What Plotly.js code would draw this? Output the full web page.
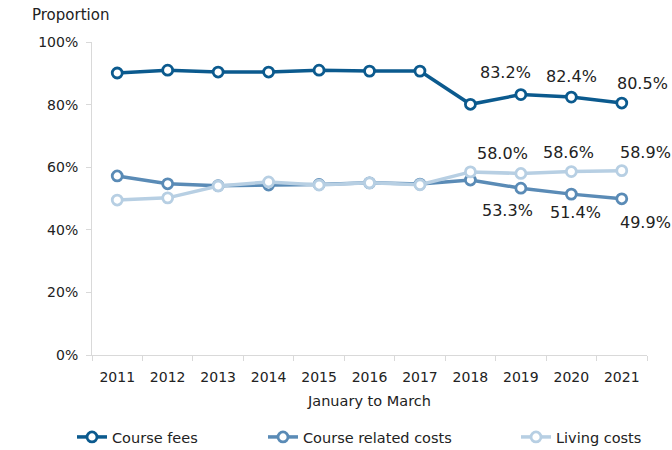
<!DOCTYPE html>
<html>
<head>
<meta charset="utf-8">
<script src="https://cdn.plot.ly/plotly-3.0.1.min.js"></script>
<style>html,body{margin:0;padding:0;background:#fff;}#chart{width:672px;height:450px;}</style>
</head>
<body>
<div id="chart"></div>
<script>
const years = ["2011","2012","2013","2014","2015","2016","2017","2018","2019","2020","2021"];
const courseFees = [90.1, 91.0, 90.4, 90.4, 91.0, 90.7, 90.7, 80.1, 83.2, 82.4, 80.5];
const courseRelated = [57.2, 54.7, 54.1, 54.3, 54.5, 55.0, 54.6, 55.9, 53.3, 51.4, 49.9];
const livingCosts = [49.5, 50.2, 54.0, 55.3, 54.3, 55.0, 54.4, 58.5, 58.0, 58.6, 58.9];
const seriesNames = ["Course fees", "Course related costs", "Living costs"];
const colors = ["#0B5A8E", "#5A8BB6", "#B7CFE3"];
const labelYears = ["2019", "2020", "2021"];

const font = "DejaVu Sans, Verdana, sans-serif";
const allSeries = [courseFees, courseRelated, livingCosts];
const legendIds = ["legend", "legend2", "legend3"];
const traces = allSeries.map((vals, i) => ({
  x: years, y: vals, name: seriesNames[i], type: "scatter", mode: "lines+markers",
  legend: legendIds[i],
  line: {color: colors[i], width: 3.5},
  marker: {symbol: "circle", size: 10, color: "#ffffff", line: {color: colors[i], width: 2.8}},
  hoverinfo: "skip"
}));

// label shifts in px (xshift, yshift) per labelled year
const feeShift = [[-15, 22], [0, 21], [21, 20]];
const livingShift = [[-18, 20], [-3, 19], [24, 18]];
const relatedShift = [[-13, -22], [4, -18], [24, -24]];
const annotations = [];
function addLabel(idx, val, sh) {
  annotations.push({x: idx, y: val, xref: "x", yref: "y", text: val.toFixed(1) + "%",
    showarrow: false, xshift: sh[0], yshift: sh[1], xanchor: "center", yanchor: "middle",
    font: {family: font, size: 16, color: "#222"}});
}
labelYears.forEach((yr, k) => {
  const idx = years.indexOf(yr);
  addLabel(idx, courseFees[idx], feeShift[k]);
  addLabel(idx, livingCosts[idx], livingShift[k]);
  addLabel(idx, courseRelated[idx], relatedShift[k]);
});
annotations.push({text: "Proportion", xref: "paper", yref: "paper", x: -0.112, y: 1.086,
  xanchor: "left", yanchor: "middle", showarrow: false, font: {family: font, size: 15, color: "#222"}});

const legendBase = {orientation: "h", yref: "container", y: 13 / 450, yanchor: "middle", xref: "container",
  xanchor: "left", font: {family: font, size: 14.5, color: "#222"}, bgcolor: "rgba(0,0,0,0)"};

const layout = {
  width: 672, height: 450,
  margin: {l: 92, r: 25, t: 42, b: 95},
  paper_bgcolor: "#fff", plot_bgcolor: "#fff",
  font: {family: font, size: 14, color: "#222"},
  xaxis: {
    type: "category", range: [-0.5, 10.5], showgrid: false, zeroline: false, automargin: false,
    showline: true, linecolor: "#d9d9d9", linewidth: 1,
    ticks: "outside", tickson: "boundaries", ticklen: 5, tickcolor: "#d9d9d9",
    ticklabelstandoff: 9,
    tickfont: {family: font, size: 14, color: "#222"},
    title: {text: "January to March", font: {family: font, size: 14.5, color: "#222"}, standoff: 12}
  },
  yaxis: {
    range: [0, 100], dtick: 20, ticksuffix: "%", showgrid: false, zeroline: false, automargin: false,
    showline: true, linecolor: "#d9d9d9", linewidth: 1,
    ticks: "outside", ticklen: 5, tickcolor: "#d9d9d9", ticklabelstandoff: 5,
    tickfont: {family: font, size: 14, color: "#222"}
  },
  legend: Object.assign({}, legendBase, {x: 72 / 672}),
  legend2: Object.assign({}, legendBase, {x: 263 / 672}),
  legend3: Object.assign({}, legendBase, {x: 516 / 672}),
  showlegend: true,
  annotations: annotations
};

Plotly.newPlot("chart", traces, layout, {displayModeBar: false, staticPlot: true});
</script>
</body>
</html>
